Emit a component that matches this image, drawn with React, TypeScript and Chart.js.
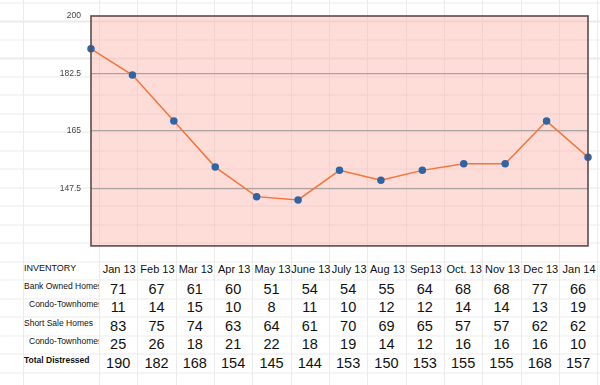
import React, { useEffect, useRef } from "react";
import { Chart, registerables } from "chart.js";

Chart.register(...registerables);

const months = ["Jan 13", "Feb 13", "Mar 13", "Apr 13", "May 13", "June 13", "July 13", "Aug 13", "Sep13", "Oct. 13", "Nov 13", "Dec 13", "Jan 14"];
const bankOwned = [71, 67, 61, 60, 51, 54, 54, 55, 64, 68, 68, 77, 66];
const bankCondo = [11, 14, 15, 10, 8, 11, 10, 12, 12, 14, 14, 13, 19];
const shortSale = [83, 75, 74, 63, 64, 61, 70, 69, 65, 57, 57, 62, 62];
const shortCondo = [25, 26, 18, 21, 22, 18, 19, 14, 12, 16, 16, 16, 10];
const totalDistressed = [190, 182, 168, 154, 145, 144, 153, 150, 153, 155, 155, 168, 157];
const yTicks = [130, 147.5, 165, 182.5, 200];

const rows: { label: string; values: number[]; indent: boolean; bold: boolean }[] = [
  { label: "Bank Owned Homes", values: bankOwned, indent: false, bold: false },
  { label: "Condo-Townhomes", values: bankCondo, indent: true, bold: false },
  { label: "Short Sale Homes", values: shortSale, indent: false, bold: false },
  { label: "Condo-Townhomes", values: shortCondo, indent: true, bold: false },
  { label: "Total Distressed", values: totalDistressed, indent: false, bold: true },
];

const plotFrame = {
  id: "plotFrame",
  beforeDraw(chart: any) {
    const { ctx, chartArea: a } = chart;
    ctx.save();
    ctx.fillStyle = "rgba(252,178,168,0.45)";
    ctx.fillRect(a.left, a.top, a.right - a.left, a.bottom - a.top);
    ctx.restore();
  },
  afterDraw(chart: any) {
    const { ctx, chartArea: a } = chart;
    ctx.save();
    ctx.strokeStyle = "#5a4c4c";
    ctx.lineWidth = 1.6;
    ctx.strokeRect(a.left, a.top, a.right - a.left, a.bottom - a.top);
    ctx.restore();
  },
};

const FONT = "'Liberation Sans', Arial, Helvetica, sans-serif";

export default function App() {
  const ref = useRef<HTMLCanvasElement>(null);
  useEffect(() => {
    if (!ref.current) return;
    const chart = new Chart(ref.current, {
      type: "line",
      data: {
        labels: months,
        datasets: [
          {
            data: totalDistressed,
            borderColor: "#f4743b",
            borderWidth: 1.5,
            pointBackgroundColor: "#2f65a7",
            pointBorderColor: "#2f65a7",
            pointRadius: 3,
            tension: 0,
          },
        ],
      },
      options: {
        animation: false,
        responsive: false,
        layout: { padding: { left: 0, right: 12, top: 16, bottom: 0 } },
        plugins: { legend: { display: false }, tooltip: { enabled: false } },
        scales: {
          x: { display: false, offset: false },
          y: {
            min: yTicks[0],
            max: yTicks[yTicks.length - 1],
            afterBuildTicks: (s: any) => {
              s.ticks = yTicks.map((v) => ({ value: v }));
            },
            afterFit: (s: any) => {
              s.width = 91;
            },
            border: { display: false },
            grid: {
              drawTicks: false,
              color: (c: any) =>
                c.tick && c.tick.value > yTicks[0] && c.tick.value < yTicks[yTicks.length - 1] ? "#aaa3a3" : "rgba(0,0,0,0)",
              lineWidth: 1.2,
            },
            ticks: {
              padding: 10,
              color: "#444",
              font: { family: FONT, size: 8.5 },
              callback: (v: any) => (Number(v) === yTicks[0] ? "" : String(v)),
            },
          },
        },
      },
      plugins: [plotFrame],
    });
    return () => chart.destroy();
  }, []);

  const gridLine = "#ebebeb";
  const colW = 38.33;
  return (
    <div
      style={{
        position: "absolute",
        left: 0,
        top: 0,
        width: 600,
        height: 385,
        overflow: "hidden",
        backgroundColor: "#fff",
        backgroundImage: [
          `repeating-linear-gradient(to bottom, ${gridLine} 0px, ${gridLine} 1px, transparent 1px, transparent 18.5px)`,
          `repeating-linear-gradient(to right, ${gridLine} 0px, ${gridLine} 1px, transparent 1px, transparent ${colW}px)`,
          `linear-gradient(to right, transparent 23px, ${gridLine} 23px, ${gridLine} 24px, transparent 24px)`,
        ].join(","),
        backgroundPosition: "0 2.5px, 99px 0, 0 0",
        backgroundSize: "100% 100%, 501px 100%, 100% 100%",
        backgroundRepeat: "repeat, no-repeat, no-repeat",
        fontFamily: FONT,
      }}
    >
      <canvas ref={ref} width={600} height={261} style={{ position: "absolute", left: 0, top: 0, width: 600, height: 261 }} />
      <div style={{ position: "absolute", left: 23, top: 261, width: 577 }}>
        <div style={{ display: "flex", height: 19 }}>
          <div style={{ width: 76, fontSize: 9, color: "#111", paddingLeft: 1, lineHeight: "14px" }}>INVENTORY</div>
          {months.map((m, i) => (
            <div key={i} style={{ width: colW, flex: "none", textAlign: "center", fontSize: 11, lineHeight: "16px", whiteSpace: "nowrap", display: "flex", justifyContent: "center", color: "#111" }}>
              <span>{m}</span>
            </div>
          ))}
        </div>
        {rows.map((r, ri) => (
          <div key={ri} style={{ display: "flex", height: 18.4 }}>
            <div
              style={{
                width: 76,
                flex: "none",
                overflow: "hidden",
                whiteSpace: "nowrap",
                fontSize: 8.5,
                fontWeight: r.bold ? "bold" : "normal",
                paddingLeft: r.indent ? 6 : 1,
                boxSizing: "border-box",
                lineHeight: "13px",
                color: "#111",
              }}
            >
              {r.label}
            </div>
            {r.values.map((v, i) => (
              <div key={i} style={{ width: colW, flex: "none", textAlign: "center", fontSize: 14.5, lineHeight: "19px", color: "#111" }}>
                {v}
              </div>
            ))}
          </div>
        ))}
      </div>
    </div>
  );
}
